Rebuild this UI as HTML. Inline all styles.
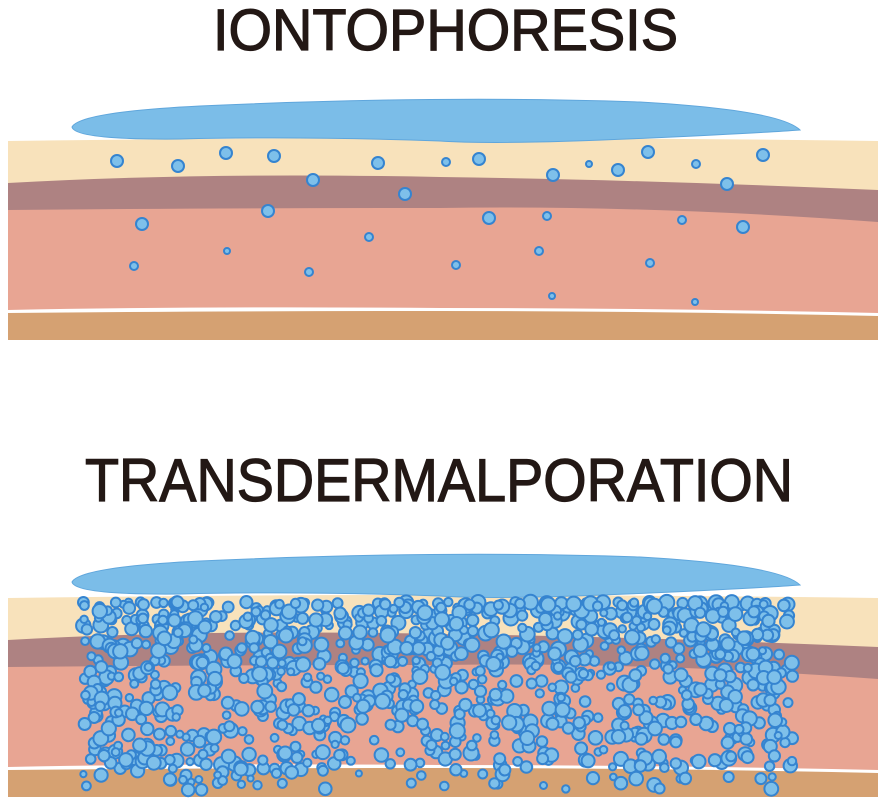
<!DOCTYPE html>
<html><head><meta charset="utf-8"><style>
html,body{margin:0;padding:0;background:#fff;}
svg{display:block}
</style></head><body>
<svg id="s" width="888" height="804" viewBox="0 0 888 804" xmlns="http://www.w3.org/2000/svg">
<defs>
<g id="skin">
  <path d="M8,141 Q440,135 878,141 L878,340 L8,340 Z" fill="#f8e2bb"/>
  <path d="M8,183 Q200,172 440,177 Q650,180 878,190 L878,340 L8,340 Z" fill="#ae8282"/>
  <path d="M8,210 Q200,208 440,208 Q650,205 878,222 L878,340 L8,340 Z" fill="#e8a593"/>
  <path d="M8,310 Q200,306 440,308 Q650,308 878,313 L878,340 L8,340 Z" fill="#ffffff"/>
  <path d="M8,313 Q200,311 440,311 Q650,311 878,316 L878,340 L8,340 Z" fill="#d5a172"/>
</g>
<path id="gel" d="M72,127 Q80,112 200,106 Q440,95 640,102 Q780,110 800,130 Q760,133 650,138 Q500,145 440,141 Q300,136 180,139 Q75,140 72,127 Z" fill="#7bbde8" stroke="#5fa6dc" stroke-width="1"/>
</defs>
<text x="213" y="50" font-family="Liberation Sans, sans-serif" font-size="58" fill="#231815" stroke="#231815" stroke-width="1.2" textLength="465" lengthAdjust="spacingAndGlyphs">IONTOPHORESIS</text>
<use href="#skin"/>
<use href="#gel"/>
<g id="gtop" fill="#7ec0ea" stroke="#3584d0" stroke-width="2"></g>
<text x="85" y="501" font-family="Liberation Sans, sans-serif" font-size="60" fill="#231815" stroke="#231815" stroke-width="1.2" textLength="708" lengthAdjust="spacingAndGlyphs">TRANSDERMALPORATION</text>
<g transform="translate(0,457)"><use href="#skin"/><use href="#gel" transform="translate(0,-2)"/></g>
<g id="gbot" fill="#7ec0ea" stroke="#3584d0" stroke-width="2"></g>
</svg>
<script>
(function(){
var NS="http://www.w3.org/2000/svg";
function c(g,x,y,r){var e=document.createElementNS(NS,"circle");e.setAttribute("cx",x);e.setAttribute("cy",y);e.setAttribute("r",r);g.appendChild(e);}
var gt=document.getElementById("gtop");
[[117,161,6],[178,166,6],[226,153,6],[274,156,6],[378,163,6],[446,162,4],[479,159,6],[553,175,6],[589,164,3],[618,170,6],[648,152,6],[696,164,4],[763,155,6],[313,180,6],[405,194,6],[727,184,6],[142,224,6],[268,211,6],[489,218,6],[547,216,4],[682,220,4],[743,227,6],[227,251,3],[369,237,4],[539,251,4],[134,266,4],[309,272,4],[456,265,4],[650,263,4],[552,296,3],[695,302,3]].forEach(function(a){c(gt,a[0],a[1],a[2]);});
var gb=document.getElementById("gbot");
var s=12345;function R(){s=(s*1103515245+12345)%2147483648;return s/2147483648;}
for(var i=0;i<1200;i++){
  var y=602+Math.pow(R(),1.4)*188;
  var x=82+R()*712;
  var r;
  if(y>768){ if(R()<0.5) continue; r=3+R()*4;} else r=3.5+R()*4;
  c(gb,x.toFixed(1),y.toFixed(1),r.toFixed(1));
}
})();
</script>
</body></html>
